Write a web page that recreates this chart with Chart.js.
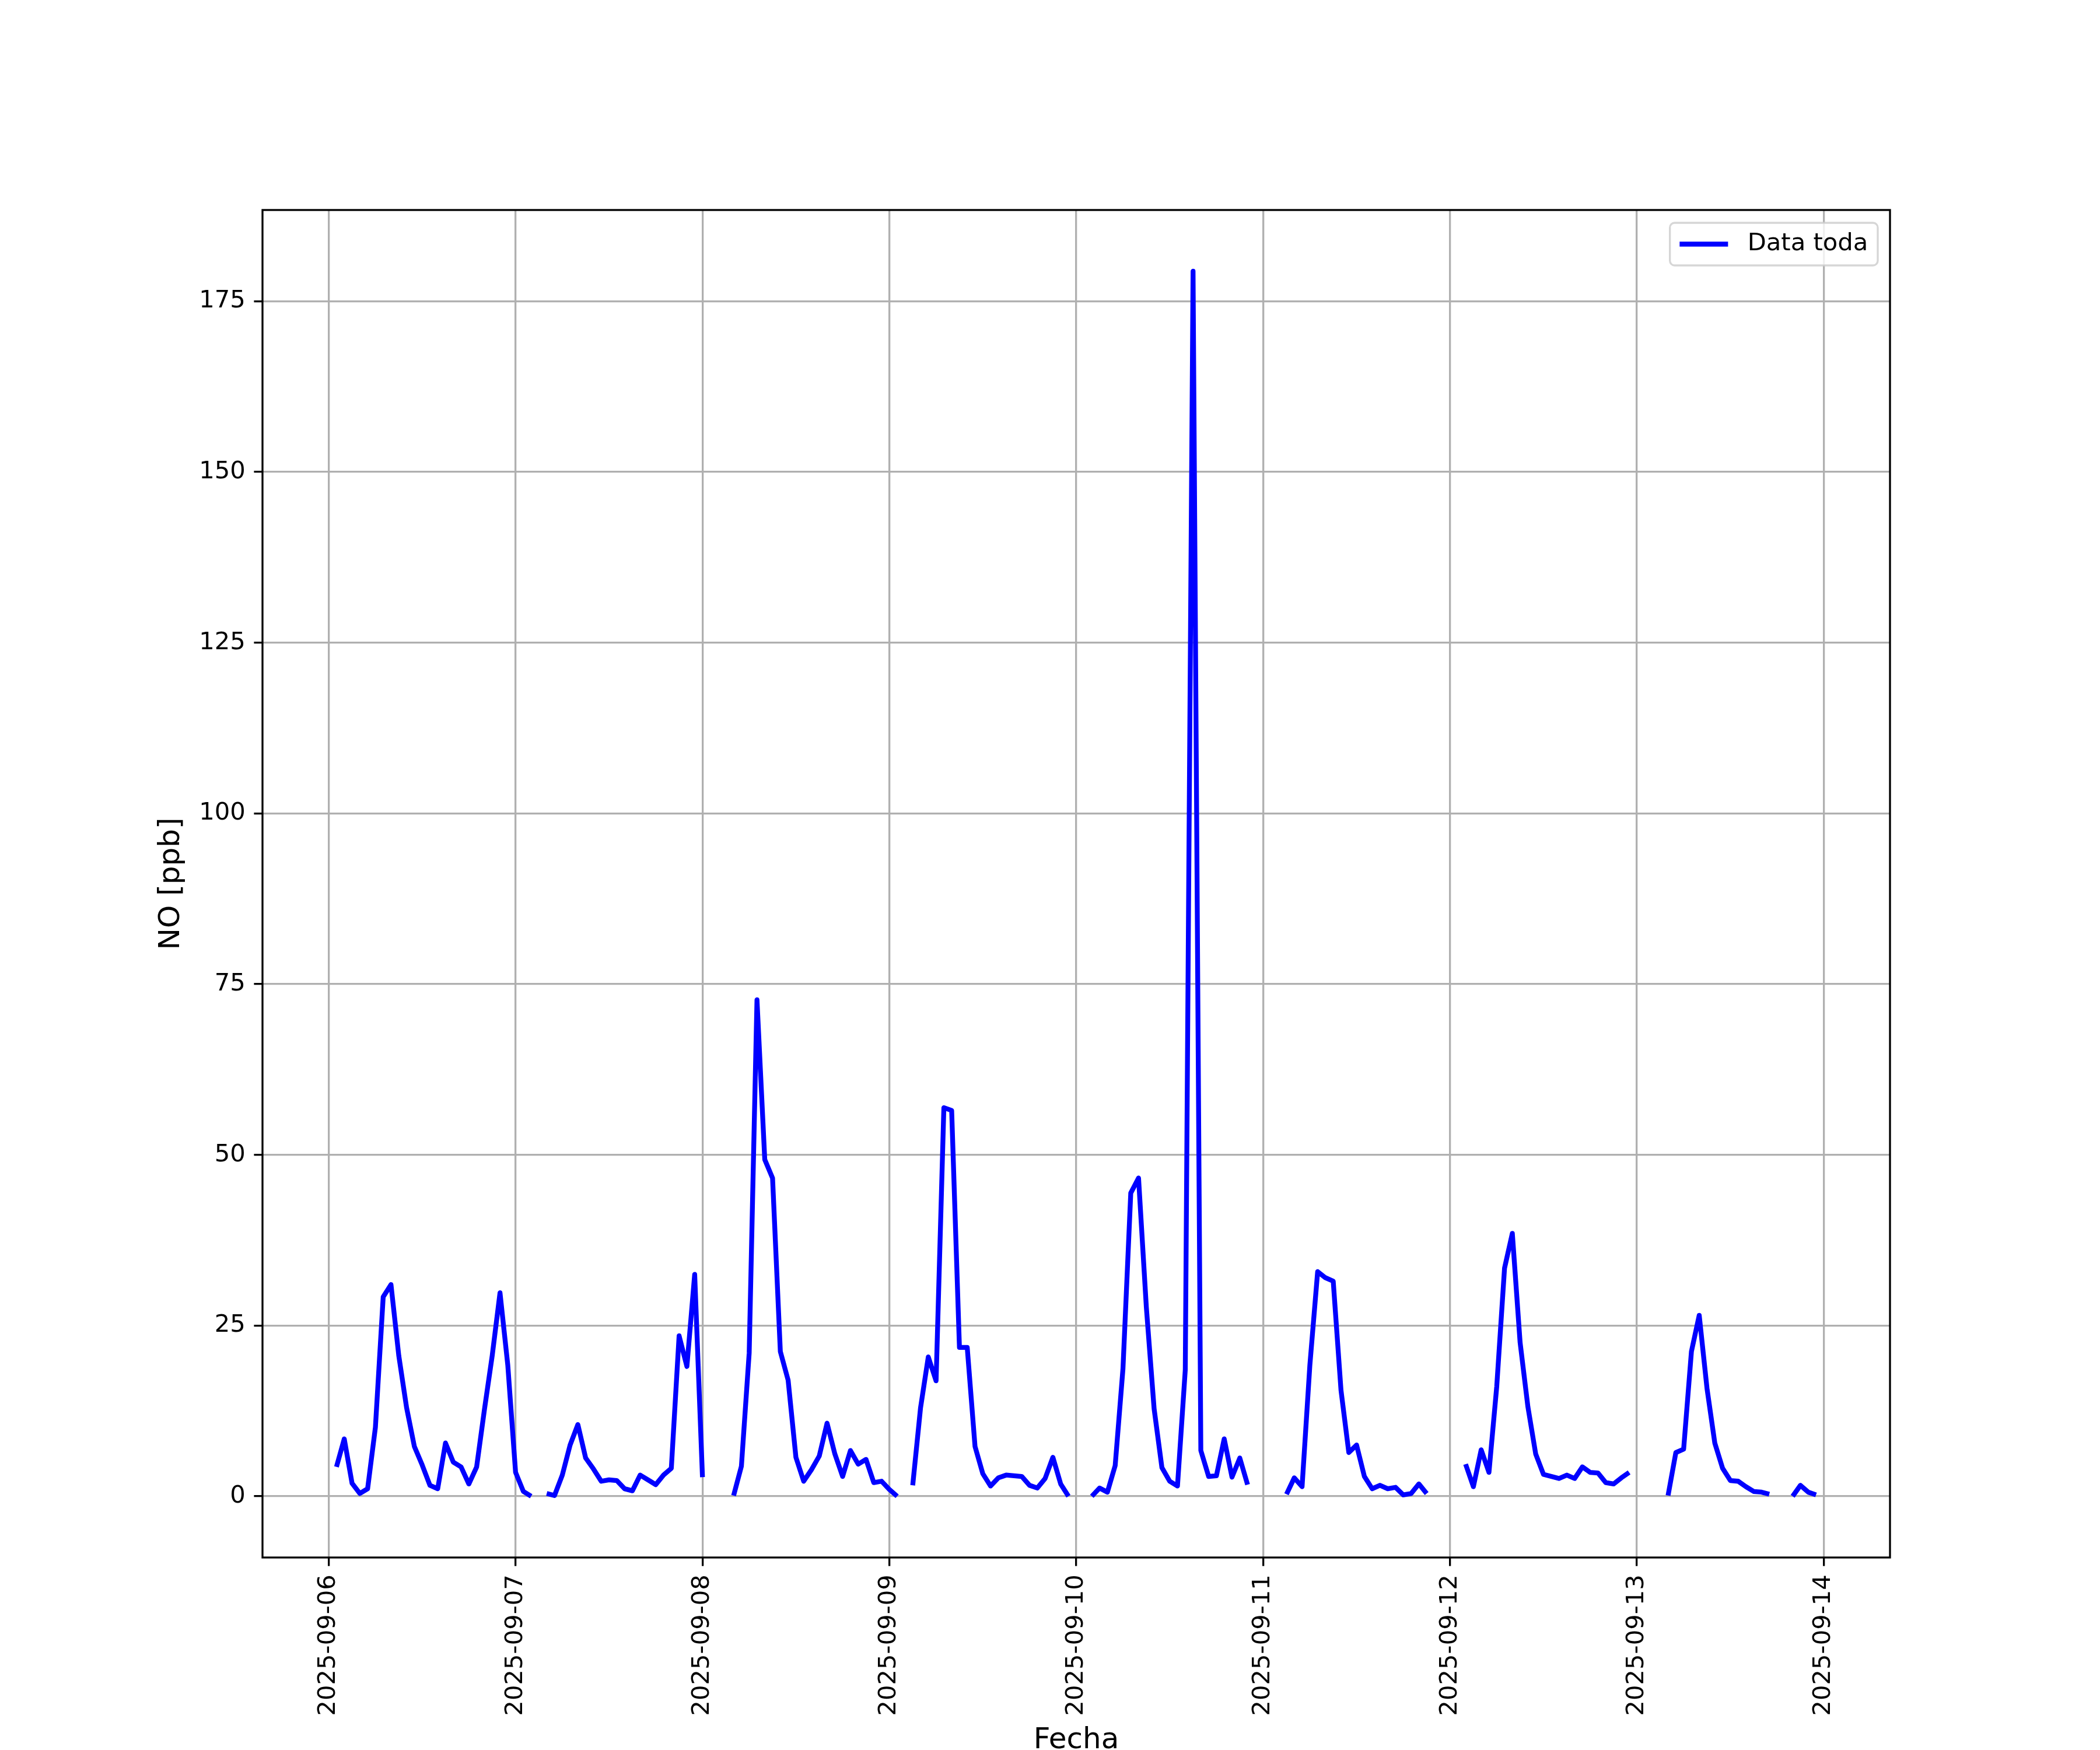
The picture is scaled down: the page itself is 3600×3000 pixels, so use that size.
<!DOCTYPE html>
<html>
<head>
<meta charset="utf-8">
<script src="https://cdn.jsdelivr.net/npm/chart.js@4.4.1/dist/chart.umd.min.js"></script>
<style>body{margin:0;background:#fff}</style>
</head>
<body>
<canvas id="noChart" width="3600" height="3000"></canvas>
<script>
// ticks del eje x: un día cada 24 horas desde 2025-09-06 00:00
const tickLabels = ["2025-09-06", "2025-09-07", "2025-09-08", "2025-09-09", "2025-09-10",
                    "2025-09-11", "2025-09-12", "2025-09-13", "2025-09-14"];
const yTicks = [0, 25, 50, 75, 100, 125, 150, 175];

// NO [ppb] por hora (índice = hora del día, null = sin dato)
const no_0906 = [null, 4.3, 8.4, 1.9, 0.4, 1.1, 10.1, 29.2, 31.0, 20.6, 13.0, 7.3, 4.6, 1.6, 1.1, 7.8, 5.0, 4.3, 1.8, 4.3, 12.7, 20.6, 29.8, 19.2];
const no_0907 = [3.5, 0.7, 0.0, null, 0.4, 0.1, 3.1, 7.5, 10.5, 5.6, 4.0, 2.2, 2.4, 2.3, 1.1, 0.8, 3.1, 2.4, 1.7, 3.1, 4.1, 23.5, 19.0, 32.5];
const no_0908 = [2.8, null, null, null, 0.1, 4.4, 21.0, 72.7, 49.3, 46.6, 21.2, 17.0, 5.7, 2.2, 3.9, 5.9, 10.7, 6.2, 2.9, 6.7, 4.7, 5.4, 2.0, 2.2];
const no_0909 = [1.0, 0.0, null, 1.6, 12.9, 20.4, 16.9, 56.9, 56.5, 21.8, 21.8, 7.3, 3.3, 1.5, 2.7, 3.1, 3.0, 2.9, 1.6, 1.2, 2.6, 5.7, 1.8, 0.0];
const no_0910 = [null, null, 0.0, 1.2, 0.6, 4.5, 18.7, 44.4, 46.6, 27.7, 12.8, 4.2, 2.2, 1.5, 18.5, 179.4, 6.7, 2.9, 3.0, 8.4, 2.8, 5.6, 1.7, null];
const no_0911 = [null, null, null, 0.3, 2.7, 1.4, 19.2, 32.9, 32.0, 31.5, 15.5, 6.4, 7.5, 2.9, 1.1, 1.6, 1.1, 1.3, 0.2, 0.4, 1.8, 0.4, null, null];
const no_0912 = [null, null, 4.7, 1.4, 6.8, 3.5, 16.1, 33.4, 38.5, 22.5, 13.1, 6.2, 3.2, 2.9, 2.6, 3.1, 2.6, 4.3, 3.5, 3.4, 2.0, 1.8, 2.7, 3.5];
const no_0913 = [null, null, null, null, 0.1, 6.4, 6.9, 21.2, 26.5, 15.8, 7.8, 4.1, 2.3, 2.2, 1.4, 0.7, 0.6, 0.3, null, null, 0.0, 1.6, 0.6, 0.2];

const days = [no_0906, no_0907, no_0908, no_0909, no_0910, no_0911, no_0912, no_0913];

// x = horas desde el 06-09 00:00
let points = [];
days.forEach((day, d) => {
    day.forEach((v, h) => {
        points.push({ x: d * 24 + h, y: v });
    });
});

const FONT = "'DejaVu Sans', sans-serif";

// marco de los ejes (los cuatro lados)
const spines = {
    id: 'spines',
    afterDatasetsDraw(chart) {
        const ca = chart.chartArea;
        const ctx = chart.ctx;
        ctx.save();
        ctx.strokeStyle = '#000';
        ctx.lineWidth = 3.3;
        ctx.strokeRect(ca.left, ca.top, ca.right - ca.left, ca.bottom - ca.top);
        ctx.restore();
    }
};

// leyenda dentro del área, arriba a la derecha
const innerLegend = {
    id: 'innerLegend',
    afterDraw(chart) {
        const ca = chart.chartArea;
        const ctx = chart.ctx;
        const ds = chart.data.datasets[0];
        ctx.save();
        ctx.font = '41.7px ' + FONT;
        const tw = ctx.measureText(ds.label).width;
        const w = 16.7 + 83 + 33.3 + tw + 16.7;
        const h = 73;
        const x = ca.right - 21 - w;
        const y = ca.top + 22;
        ctx.beginPath();
        ctx.roundRect(x, y, w, h, 8);
        ctx.fillStyle = 'rgba(255,255,255,0.8)';
        ctx.fill();
        ctx.strokeStyle = 'rgba(204,204,204,0.8)';
        ctx.lineWidth = 3.3;
        ctx.stroke();
        const cy = y + h / 2;
        ctx.beginPath();
        ctx.moveTo(x + 16.7, cy);
        ctx.lineTo(x + 16.7 + 83, cy);
        ctx.strokeStyle = ds.borderColor;
        ctx.lineWidth = ds.borderWidth;
        ctx.stroke();
        ctx.fillStyle = '#000';
        ctx.textBaseline = 'middle';
        ctx.fillText(ds.label, x + 16.7 + 83 + 33.3, cy);
        ctx.restore();
    }
};

new Chart(document.getElementById('noChart').getContext('2d'), {
    type: 'line',
    data: {
        datasets: [{
            label: 'Data toda',
            data: points,
            borderColor: '#0000ff',
            borderWidth: 8.3,
            borderJoinStyle: 'round',
            pointRadius: 0,
            tension: 0,
            spanGaps: false,
            fill: false
        }]
    },
    options: {
        responsive: false,
        animation: false,
        devicePixelRatio: 1,
        layout: { padding: { top: 360, right: 360, left: 0, bottom: 0 } },
        plugins: {
            legend: { display: false },
            tooltip: { enabled: false }
        },
        scales: {
            x: {
                type: 'linear',
                min: -8.5,
                max: 200.5,
                afterFit: (s) => { s.height = 330; },
                afterBuildTicks: (s) => { s.ticks = tickLabels.map((_, i) => ({ value: i * 24 })); },
                grid: { color: '#b0b0b0', lineWidth: 3.3, tickColor: '#000', tickLength: 14.6, tickWidth: 3.3 },
                border: { display: false },
                ticks: {
                    autoSkip: false,
                    minRotation: 90,
                    maxRotation: 90,
                    padding: 14.6,
                    color: '#000',
                    font: { family: FONT, size: 41.7 },
                    callback: (v) => tickLabels[Math.round(v / 24)]
                },
                title: {
                    display: true,
                    text: 'Fecha',
                    color: '#000',
                    font: { family: FONT, size: 50, lineHeight: 0.64 },
                    padding: { top: 0, bottom: 0 }
                }
            },
            y: {
                min: -8.97,
                max: 188.37,
                afterFit: (s) => { s.width = 450; },
                afterBuildTicks: (s) => { s.ticks = yTicks.map(v => ({ value: v })); },
                grid: { color: '#b0b0b0', lineWidth: 3.3, tickColor: '#000', tickLength: 14.6, tickWidth: 3.3 },
                border: { display: false },
                ticks: {
                    padding: 14.6,
                    color: '#000',
                    font: { family: FONT, size: 41.7 }
                },
                title: {
                    display: true,
                    text: 'NO [ppb]',
                    color: '#000',
                    font: { family: FONT, size: 50, lineHeight: 1.2 },
                    padding: { top: 264, bottom: 0 }
                }
            }
        }
    },
    plugins: [spines, innerLegend]
});
</script>
</body>
</html>
